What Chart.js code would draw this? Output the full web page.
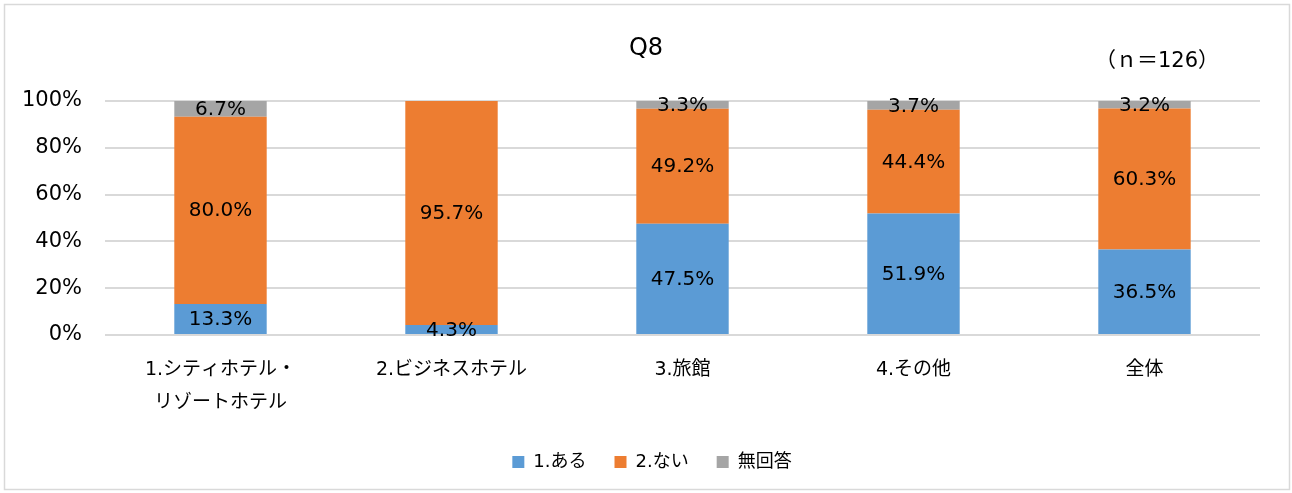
<!DOCTYPE html>
<html>
<head>
<meta charset="utf-8">
<script src="https://cdn.jsdelivr.net/npm/chart.js@4/dist/chart.umd.min.js"></script>
<style>
  html, body { margin: 0; padding: 0; background: #fff; }
  #wrap { width: 1292px; height: 493px; }
</style>
</head>
<body>
<div id="wrap"><canvas id="myChart" width="1292" height="493"></canvas></div>
<script>
const categories = [
  ["1.シティホテル・", "リゾートホテル"],
  "2.ビジネスホテル",
  "3.旅館",
  "4.その他",
  "全体"
];
const seriesNames = ["1.ある", "2.ない", "無回答"];
const aruValues = [13.3, 4.3, 47.5, 51.9, 36.5];
const naiValues = [80.0, 95.7, 49.2, 44.4, 60.3];
const noAnswerValues = [6.7, 0, 3.3, 3.7, 3.2];
const yTicks = [0, 20, 40, 60, 80, 100];
const chartTitle = "Q8";
const sampleNote = "（ｎ＝126）";

const fontFamily = "'DejaVu Sans', 'Noto Sans CJK JP', sans-serif";

// frame, title and n note
const framePlugin = {
  id: "frame",
  afterLayout(chart) {
    // the legend sits a bit right of the plot centre
    if (chart.legend) chart.legend.left = 44;
  },
  beforeDraw(chart) {
    const ctx = chart.ctx;
    ctx.save();
    ctx.fillStyle = "#fff";
    ctx.fillRect(0, 0, chart.width, chart.height);
    ctx.strokeStyle = "#d9d9d9";
    ctx.lineWidth = 1.5;
    ctx.strokeRect(4.5, 4.5, 1285, 485);
    ctx.restore();
  },
  afterDraw(chart) {
    const ctx = chart.ctx;
    ctx.save();
    ctx.fillStyle = "#000";
    ctx.textAlign = "center";
    ctx.textBaseline = "middle";
    ctx.font = "24px " + fontFamily;
    ctx.fillText(chartTitle, 646, 49);
    ctx.font = "21px " + fontFamily;
    ctx.fillText(sampleNote, 1157, 62);
    ctx.restore();
  }
};

// value labels in the middle of each segment
const labelPlugin = {
  id: "segLabels",
  afterDatasetsDraw(chart) {
    const ctx = chart.ctx;
    ctx.save();
    ctx.fillStyle = "#000";
    ctx.textAlign = "center";
    ctx.textBaseline = "middle";
    ctx.font = "20px " + fontFamily;
    chart.data.datasets.forEach((ds, i) => {
      const meta = chart.getDatasetMeta(i);
      meta.data.forEach((bar, j) => {
        const v = ds.data[j];
        if (!v) return;
        ctx.fillText(v.toFixed(1) + "%", bar.x, (bar.y + bar.base) / 2 + 1);
      });
    });
    ctx.restore();
  }
};

const data = {
  labels: categories,
  datasets: [
    { label: seriesNames[0], data: aruValues, backgroundColor: "#5b9bd5" },
    { label: seriesNames[1], data: naiValues, backgroundColor: "#ed7d31" },
    { label: seriesNames[2], data: noAnswerValues, backgroundColor: "#a5a5a5" }
  ]
};

const config = {
  type: "bar",
  data,
  plugins: [framePlugin, labelPlugin],
  options: {
    responsive: false,
    animation: false,
    layout: { padding: { top: 101, right: 32, left: 0, bottom: 12 } },
    datasets: { bar: { categoryPercentage: 0.4, barPercentage: 1.0 } },
    plugins: {
      title: { display: false },
      tooltip: { enabled: false },
      legend: {
        position: "bottom",
        labels: {
          boxWidth: 12,
          boxHeight: 12,
          padding: 28,
          color: "#000",
          font: { family: fontFamily, size: 18 }
        }
      }
    },
    scales: {
      x: {
        stacked: true,
        grid: { display: false, drawTicks: false },
        border: { display: false },
        ticks: {
          color: "#000",
          padding: 19,
          maxRotation: 0,
          autoSkip: false,
          font: { family: fontFamily, size: 19, lineHeight: "33px" }
        },
        afterFit(scale) { scale.height = 90; }
      },
      y: {
        stacked: true,
        min: 0,
        max: 100,
        grid: { color: "#d9d9d9", lineWidth: 2, drawTicks: false },
        border: { display: false },
        afterBuildTicks(scale) { scale.ticks = yTicks.map(v => ({ value: v })); },
        ticks: {
          color: "#000",
          padding: 23,
          font: { family: fontFamily, size: 21 },
          callback: (v) => v + "%"
        },
        afterFit(scale) { scale.width = 105; }
      }
    }
  }
};

const myChart = document.getElementById("myChart");
const chart = new Chart(myChart, config);
</script>
</body>
</html>
